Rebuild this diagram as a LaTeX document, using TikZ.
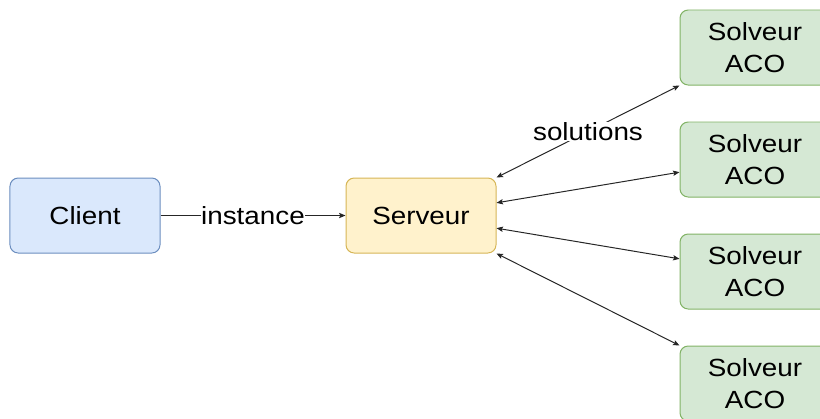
\documentclass[tikz,border=0pt]{standalone}
\usepackage{fontspec}
\setmainfont{Liberation Sans}[FakeStretch=1.12]
\usepackage{xcolor}
\usetikzlibrary{arrows.meta, calc}

\definecolor{clientfill}{HTML}{DAE8FC}
\definecolor{clientline}{HTML}{6C8EBF}
\definecolor{serverfill}{HTML}{FFF2CC}
\definecolor{serverline}{HTML}{D6B656}
\definecolor{solverfill}{HTML}{D5E8D4}
\definecolor{solverline}{HTML}{82B366}

\begin{document}
\begin{tikzpicture}[x=0.03cm, y=-0.03cm,
  box/.style={draw, rounded corners=7pt, line width=0.85pt, minimum width=4.5cm,
    minimum height=2.25cm, align=center, font=\fontsize{21.2}{27.7}\selectfont},
  link/.style={line width=0.85pt, draw=black!85},
  tip/.tip={Stealth[length=5.5pt, width=4.5pt, inset=1pt]},
  lab/.style={fill=white, inner sep=0.5pt, font=\fontsize{21.2}{27.7}\selectfont}]
  \useasboundingbox (0,0) rectangle (820,418);

  \node[box, fill=clientfill, draw=clientline] (client) at (85,215.5) {Client};
  \node[box, fill=serverfill, draw=serverline] (serveur) at (421,215.5) {Serveur};
  \foreach \i/\y in {1/47.5, 2/159.5, 3/271.5, 4/383.5}
    \node[box, fill=solverfill, draw=solverline] (solveur\i) at (755,\y) {Solveur\\ACO};

  % ports on the right side of the server
  \coordinate (srvA) at ($(serveur.north east)!1/3!(serveur.south east)$);
  \coordinate (srvB) at ($(serveur.north east)!2/3!(serveur.south east)$);
  \coordinate (slvB) at ($(solveur2.north west)!2/3!(solveur2.south west)$);
  \coordinate (slvC) at ($(solveur3.north west)!1/3!(solveur3.south west)$);

  \draw[link, -tip] (client) -- node[lab] {instance} (serveur);
  \draw[link, tip-tip] (serveur.north east) -- node[lab] {solutions} (solveur1.south west);
  \draw[link, tip-tip] (srvA) -- (slvB);
  \draw[link, tip-tip] (srvB) -- (slvC);
  \draw[link, tip-tip] (serveur.south east) -- (solveur4.north west);
\end{tikzpicture}
\end{document}
